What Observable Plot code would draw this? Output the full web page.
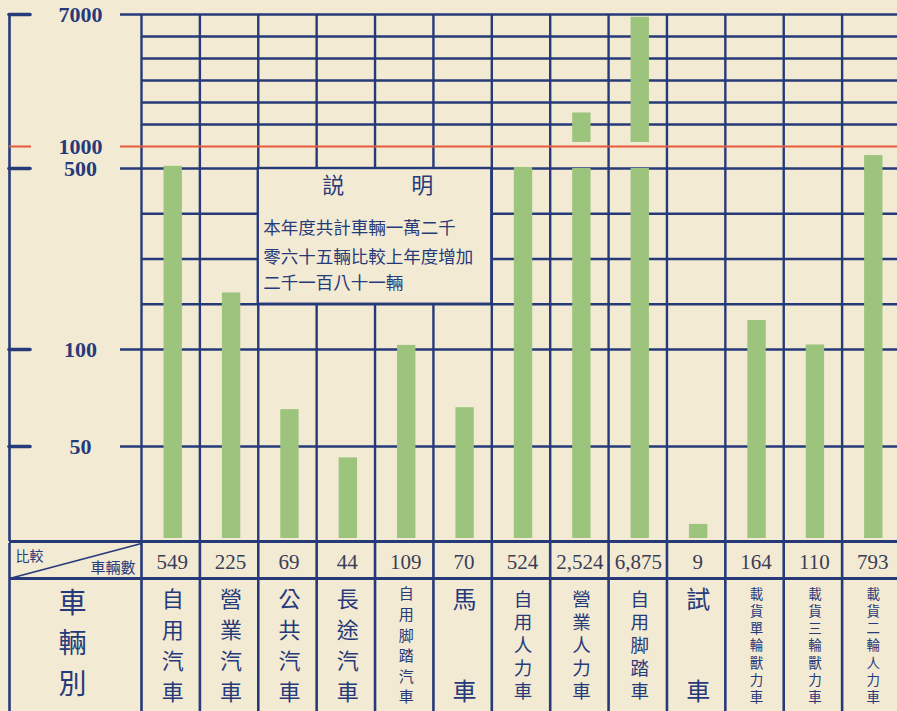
<!DOCTYPE html>
<html><head><meta charset="utf-8">
<script src="https://cdn.jsdelivr.net/npm/d3@7"></script>
<script src="https://cdn.jsdelivr.net/npm/@observablehq/plot@0.6"></script>
<style>
html,body{margin:0;padding:0;background:#f3ead4;}
#chart{width:897px;height:711px;overflow:hidden;position:relative;background:#f3ead4;}
#chart svg{display:block;}
g[aria-label="y-labels"] text{letter-spacing:4.5px;}
g[aria-label="counts-small"] text{letter-spacing:2px;}
g[aria-label="counts-large"] text{letter-spacing:0.3px;}
g[aria-label="note-1"] text{letter-spacing:1.5px;}
g[aria-label="note-2"] text{letter-spacing:0.3px;}
g[aria-label="note-3"] text{letter-spacing:0px;}
</style></head><body><div id="chart"></div>
<script>
// ---- data ----
const categories = ["自用汽車","營業汽車","公共汽車","長途汽車","自用脚踏汽車","馬車","自用人力車","營業人力車","自用脚踏車","試車","載貨單輪獸力車","載貨三輪獸力車","載貨二輪人力車"];
const counts = [549,225,69,44,109,70,524,2524,6875,9,164,110,793];
const tickValues = [7000,1000,500,100,50];
const redTicks = [1000];
const minorGrid = [6000,5000,4000,3000,2000,400,300,200];
const noteTitle = ["説","明"];
const noteLines = ["本年度共計車輛一萬二千","零六十五輛比較上年度增加","二千一百八十一輛"];
const cornerTop = "比較";
const cornerBottom = "車輛數";
const headerName = "車輛別";

// ---- style ----
const NAVY = "#263a7a", GREEN = "#9dc47d", RED = "#e35a3c", BG = "#f3ead4", INK = "#3a3d55";
const CJK = "'Noto Sans CJK TC', 'Noto Sans CJK JP', sans-serif";
const SERIF = "'Liberation Serif', 'DejaVu Serif', serif";

const xScale = {type: "linear", domain: [-1, 0, 13], range: [9, 141, 900], axis: null};
const cols = d3.range(0, 14);
const blackTicks = tickValues.filter(v => !redTicks.includes(v));

// bar segments: the scale is broken between 500 and 1000
const lowSegs = counts.map((v, i) => ({i, lo: 0, hi: v > 1000 ? 500 : v}));
const highSegs = counts.map((v, i) => ({i, v})).filter(d => d.v > 1000).map(d => ({i: d.i, lo: 1000, hi: d.v}));

const chart = Plot.plot({
  width: 897, height: 543, margin: 0,
  style: {background: "transparent", fontFamily: CJK},
  x: xScale,
  y: {type: "linear", domain: [0, 50, 100, 500, 1000, 7000], range: [541, 446, 349, 168, 146, 14], axis: null},
  marks: [
    Plot.ruleX(cols, {x: d => d, y1: 0, y2: 7000, stroke: NAVY, strokeWidth: 2.4}),
    Plot.ruleY(minorGrid, {y: d => d, x1: 0, x2: 13, stroke: NAVY, strokeWidth: 2.4}),
    Plot.ruleY(blackTicks, {y: d => d, x1: 0, x2: 13, insetLeft: -21, stroke: NAVY, strokeWidth: 2.6}),
    Plot.ruleY(redTicks, {y: d => d, x1: 0, x2: 13, insetLeft: -21, stroke: RED, strokeWidth: 1.8}),
    Plot.ruleY([0], {y: d => d, x1: -1, x2: 13, stroke: NAVY, strokeWidth: 3}),
    Plot.ruleX([-1], {x: d => d, y1: 0, y2: 7000, stroke: NAVY, strokeWidth: 2.6}),
    Plot.ruleY(blackTicks, {y: d => d, x1: -1, x2: -1, insetRight: -21, stroke: NAVY, strokeWidth: 3.6, strokeLinecap: "round"}),
    Plot.ruleY(redTicks, {y: d => d, x1: -1, x2: -1, insetRight: -22, stroke: RED, strokeWidth: 2}),
    Plot.text(tickValues, {x: -1, y: d => d, text: d => String(d), dx: 71, textAnchor: "middle",
      fontFamily: SERIF, fontWeight: "bold", fontSize: 22, fill: NAVY, ariaLabel: "y-labels"}),
    // explanatory note box
    Plot.rect([0], {x1: 2, x2: 6, y1: 200, y2: 500, fill: BG, stroke: NAVY, strokeWidth: 2.4}),
    Plot.text(noteTitle, {x: 2, y: 500, text: d => d, dx: 75, dy: 17, fontSize: 22, fill: NAVY, textAnchor: "middle", filter: (d, i) => i === 0}),
    Plot.text(noteTitle, {x: 2, y: 500, text: d => d, dx: 164, dy: 17, fontSize: 22, fill: NAVY, textAnchor: "middle", filter: (d, i) => i === 1}),
    ...noteLines.map((t, k) => Plot.text([t], {x: 2, y: 500, text: d => d, dx: 5, dy: [60, 89, 115][k],
      fontSize: 17.5, fill: NAVY, textAnchor: "start", ariaLabel: "note-" + (k + 1)})),
    // bars
    Plot.rect(lowSegs, {x1: d => d.i, x2: d => d.i + 1, y1: "lo", y2: "hi", insetLeft: 22.5, insetRight: 17.5, insetBottom: 3, fill: GREEN}),
    Plot.rect(highSegs, {x1: d => d.i, x2: d => d.i + 1, y1: "lo", y2: "hi", insetLeft: 22.5, insetRight: 17.5, insetBottom: 4, fill: GREEN})
  ]
});

// ---- table below the chart ----
const sizeFor = n => n <= 2 ? 24 : n === 4 ? 22 : n === 5 ? 18.5 : n === 6 ? 15 : 13.5;
const nameChars = categories.flatMap((name, i) => {
  const chars = Array.from(name);
  const n = chars.length;
  const top = n >= 6 ? 1.12 : 1.165, bot = n >= 6 ? 1.895 : 1.857;
  return chars.map((c, k) => ({i, c, n, y: top + k * (bot - top) / (n - 1)}));
});
const headerChars = Array.from(headerName).map((c, k, a) => ({c, y: 1.19 + k * (1.80 - 1.19) / (a.length - 1)}));
const countRows = counts.map((v, i) => ({i, v}));

const table = Plot.plot({
  width: 897, height: 168, margin: 0,
  style: {background: "transparent", fontFamily: CJK},
  x: xScale,
  y: {type: "linear", domain: [0, 1, 2], range: [0, 35, 168], axis: null},
  marks: [
    Plot.ruleX([-1, ...cols], {x: d => d, y1: 0, y2: 2, stroke: NAVY, strokeWidth: 2.6}),
    Plot.ruleY([1], {y: d => d, x1: -1, x2: 13, stroke: NAVY, strokeWidth: 3}),
    Plot.link([0], {x1: -1, y1: 1, x2: 0, y2: 0, stroke: NAVY, strokeWidth: 1.6}),
    Plot.text([cornerTop], {x: -1, y: 0, text: d => d, dx: 6, dy: 13, textAnchor: "start", fontSize: 14, fill: NAVY}),
    Plot.text([cornerBottom], {x: 0, y: 1, text: d => d, dx: -6, dy: -10, textAnchor: "end", fontSize: 15, fill: NAVY}),
    Plot.text(countRows.filter(d => d.v < 1000), {x: d => d.i + 0.5, y: 0.5, text: d => d3.format(",")(d.v), dx: 1.5, dy: 1,
      fontFamily: SERIF, fontSize: 21, fill: INK, textAnchor: "middle", ariaLabel: "counts-small"}),
    Plot.text(countRows.filter(d => d.v >= 1000), {x: d => d.i + 0.5, y: 0.5, text: d => d3.format(",")(d.v), dx: 0.5, dy: 1,
      fontFamily: SERIF, fontSize: 21, fill: INK, textAnchor: "middle", ariaLabel: "counts-large"}),
    Plot.text(nameChars, {x: d => d.i + 0.5, y: "y", text: "c", dx: 2, fontSize: d => sizeFor(d.n), fill: NAVY, textAnchor: "middle"}),
    Plot.text(headerChars, {x: -0.5, y: "y", text: "c", dx: -3, fontSize: 28, fill: NAVY, textAnchor: "middle"})
  ]
});

const root = document.getElementById("chart");
root.appendChild(chart);
root.appendChild(table);
</script>
</body></html>
